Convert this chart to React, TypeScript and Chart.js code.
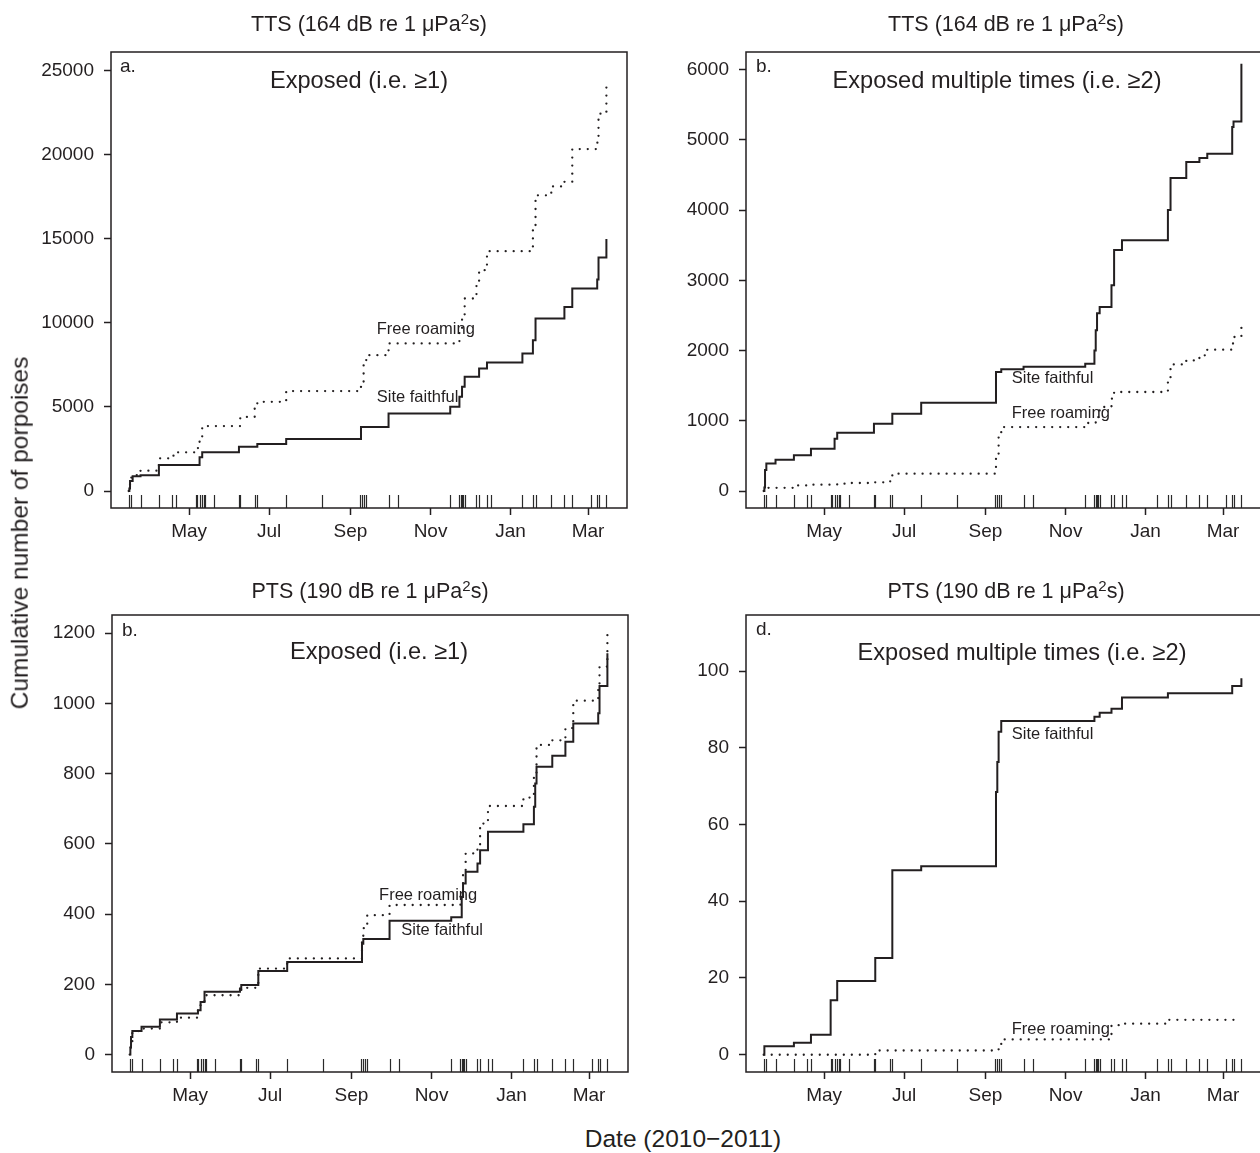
import React, { useEffect, useRef } from "react";
import { Chart, registerables } from "chart.js";

Chart.register(...registerables);

const FONT = '"Liberation Sans", Arial, Helvetica, sans-serif';
const INK = "#231f20";

// x values are days since 1 January 2010
const monthTickDays = [120, 181, 243, 304, 365, 424];
const monthTickLabels = ["May", "Jul", "Sep", "Nov", "Jan", "Mar"];
const xMinDay = 60.5;
const xMaxDay = 453.7;

// days with exposure events (rug marks)
const exposureEventDays = [
  74, 76, 83, 97, 107, 110, 125, 126, 128, 130, 131, 132, 139, 158, 159, 170, 172,
  194, 221, 250, 252, 253, 255, 272, 279, 319, 326, 327, 328, 329, 330, 339, 341,
  347, 350, 374, 382, 384, 396, 406, 412, 426, 431, 432, 438,
];

const ttsAnyTicks = [0, 5000, 10000, 15000, 20000, 25000];
const ttsMultiTicks = [0, 1000, 2000, 3000, 4000, 5000, 6000];
const ptsAnyTicks = [0, 200, 400, 600, 800, 1000, 1200];
const ptsMultiTicks = [0, 20, 40, 60, 80, 100];

// [day, cumulative number of porpoises]
const ttsAnySiteFaithful: [number, number][] = [
  [74, 0], [74.5, 150], [75, 600], [77, 880], [83, 930], [97, 1540], [128, 2000], [130, 2300],
  [158, 2630], [172, 2790], [194, 3090], [251, 3800], [272, 4610], [319, 5010], [326, 5600],
  [328, 6200], [330, 6790], [341, 7280], [347, 7640], [374, 8170], [382, 8960], [384, 10250],
  [406, 10940], [412, 12030], [431, 12570], [432, 13870], [438, 14980],
];
const ttsAnyFreeRoaming: [number, number][] = [
  [74, 0], [75, 500], [76, 950], [83, 1210], [97, 1940], [107, 2100], [110, 2300], [126, 2550],
  [128, 3200], [130, 3860], [159, 4400], [170, 5000], [172, 5300], [194, 5940], [251, 6500],
  [253, 7500], [255, 8070], [272, 8770], [326, 9700], [328, 10500], [330, 11440], [339, 12300],
  [341, 13120], [347, 14250], [382, 15500], [384, 17570], [396, 18100], [406, 18370],
  [412, 20320], [431, 20700], [432, 22420], [438, 24100],
];
const ttsMultiSiteFaithful: [number, number][] = [
  [74, 0], [74.5, 50], [75, 300], [76, 390], [83, 446], [97, 508], [110, 603], [128, 745],
  [130, 830], [158, 959], [172, 1101], [194, 1258], [251, 1694], [255, 1732], [272, 1770],
  [319, 1813], [326, 2000], [327, 2290], [328, 2530], [330, 2620], [339, 2930], [341, 3430],
  [347, 3570], [382, 4000], [384, 4457], [396, 4684], [406, 4741], [412, 4803], [431, 5183],
  [432, 5263], [438, 6084],
];
const ttsMultiFreeRoaming: [number, number][] = [
  [74, 0], [74.5, 20], [76, 45], [97, 80], [110, 90], [130, 104], [139, 114], [158, 123],
  [170, 138], [172, 247], [251, 500], [253, 800], [255, 911], [319, 968], [327, 1006],
  [329, 1077], [330, 1196], [339, 1315], [341, 1410], [382, 1600], [384, 1803], [396, 1860],
  [406, 1932], [412, 2012], [431, 2100], [432, 2193], [438, 2430],
];
const ptsAnySiteFaithful: [number, number][] = [
  [74, 0], [74.5, 20], [75, 50], [76, 67], [83, 79], [97, 100], [110, 117], [126, 126],
  [128, 150], [131, 179], [158, 188], [159, 198], [172, 238], [194, 264], [251, 316],
  [252, 329], [272, 381], [319, 391], [327, 449], [328, 487], [330, 521], [339, 544],
  [341, 582], [347, 635], [374, 656], [382, 706], [383, 772], [384, 820], [396, 851],
  [406, 891], [412, 943], [431, 972], [432, 1050], [438, 1143],
];
const ptsAnyFreeRoaming: [number, number][] = [
  [74, 0], [74.5, 20], [76, 67], [83, 74], [97, 92], [110, 105], [126, 130], [128, 150],
  [131, 169], [158, 175], [159, 190], [172, 245], [194, 274], [251, 330], [252, 360],
  [255, 397], [272, 426], [326, 460], [328, 516], [330, 573], [339, 592], [341, 658],
  [347, 708], [374, 732], [382, 800], [384, 882], [396, 895], [406, 930], [412, 1008],
  [431, 1040], [432, 1105], [438, 1205],
];
const ptsMultiSiteFaithful: [number, number][] = [
  [74, 0], [74.5, 2.2], [97, 3.1], [110, 5.2], [125, 14.2], [130, 19.2], [159, 25.2],
  [172, 48.1], [194, 49.1], [251, 68.5], [252, 76.3], [253, 84.2], [255, 87], [326, 88.1],
  [330, 89.1], [339, 90.2], [347, 93.1], [382, 94.2], [431, 96.1], [438, 98.1],
];
const ptsMultiFreeRoaming: [number, number][] = [
  [74, 0], [159, 1.1], [253, 2.5], [255, 4], [339, 7.7], [347, 8.1], [382, 9.1], [438, 9.1],
];

type Label = { text: string; x: number; y: number };
type Panel = {
  left: number; top: number; width: number; height: number;
  padTop: number; padRight: number; yAxisWidth: number; xAxisHeight: number;
  yMin: number; yMax: number; yTicks: number[];
  site: [number, number][]; roam: [number, number][];
  letter: string; letterPos: [number, number];
  subtitle: string; subtitlePos: [number, number];
  labels: Label[];
};

const panels: Panel[] = [
  {
    left: 0, top: 0, width: 640, height: 560, padTop: 52, padRight: 13, yAxisWidth: 111, xAxisHeight: 52,
    yMin: -1009, yMax: 26087, yTicks: ttsAnyTicks, site: ttsAnySiteFaithful, roam: ttsAnyFreeRoaming,
    letter: "a.", letterPos: [9, 20], subtitle: "Exposed (i.e. \u22651)", subtitlePos: [248, 29],
    labels: [{ text: "Free roaming", x: 263, y: 9602 }, { text: "Site faithful", x: 263, y: 5564 }],
  },
  {
    left: 635, top: 0, width: 640, height: 560, padTop: 52, padRight: 13, yAxisWidth: 111, xAxisHeight: 52,
    yMin: -242, yMax: 6251, yTicks: ttsMultiTicks, site: ttsMultiSiteFaithful, roam: ttsMultiFreeRoaming,
    letter: "b.", letterPos: [10, 20], subtitle: "Exposed multiple times (i.e. \u22652)", subtitlePos: [251, 29],
    labels: [{ text: "Site faithful", x: 263, y: 1609 }, { text: "Free roaming", x: 263, y: 1102 }],
  },
  {
    left: 0, top: 563, width: 640, height: 560, padTop: 52, padRight: 12, yAxisWidth: 112, xAxisHeight: 51,
    yMin: -49.6, yMax: 1252, yTicks: ptsAnyTicks, site: ptsAnySiteFaithful, roam: ptsAnyFreeRoaming,
    letter: "b.", letterPos: [10, 21], subtitle: "Exposed (i.e. \u22651)", subtitlePos: [267, 37],
    labels: [{ text: "Free roaming", x: 264, y: 452 }, { text: "Site faithful", x: 281, y: 354 }],
  },
  {
    left: 635, top: 563, width: 640, height: 560, padTop: 52, padRight: 13, yAxisWidth: 111, xAxisHeight: 51,
    yMin: -4.5, yMax: 114.6, yTicks: ptsMultiTicks, site: ptsMultiSiteFaithful, roam: ptsMultiFreeRoaming,
    letter: "d.", letterPos: [10, 20], subtitle: "Exposed multiple times (i.e. \u22652)", subtitlePos: [276, 38],
    labels: [{ text: "Site faithful", x: 263, y: 83.4 }, { text: "Free roaming", x: 263, y: 6.5 }],
  },
];

const framePlugin = {
  id: "frame",
  afterDraw(chart: any) {
    const { ctx, chartArea: a } = chart;
    ctx.save();
    ctx.strokeStyle = INK;
    ctx.lineWidth = 1.5;
    ctx.strokeRect(a.left, a.top, a.right - a.left, a.bottom - a.top);
    ctx.restore();
  },
};

const rugPlugin = {
  id: "rug",
  afterDatasetsDraw(chart: any) {
    const { ctx, chartArea: a, scales } = chart;
    ctx.save();
    ctx.strokeStyle = "#2a2a2a";
    ctx.lineWidth = 1.2;
    for (const d of exposureEventDays) {
      const x = Math.round(scales.x.getPixelForValue(d)) + 0.5;
      ctx.beginPath();
      ctx.moveTo(x, a.bottom);
      ctx.lineTo(x, a.bottom - 13);
      ctx.stroke();
    }
    ctx.restore();
  },
};

function textPlugin(p: Panel) {
  return {
    id: "texts",
    afterDraw(chart: any) {
      const { ctx, chartArea: a, scales } = chart;
      ctx.save();
      ctx.fillStyle = INK;
      ctx.font = `19px ${FONT}`;
      ctx.textAlign = "left";
      ctx.textBaseline = "alphabetic";
      ctx.fillText(p.letter, a.left + p.letterPos[0], a.top + p.letterPos[1]);
      ctx.font = `23.6px ${FONT}`;
      ctx.textAlign = "center";
      ctx.textBaseline = "middle";
      ctx.fillText(p.subtitle, a.left + p.subtitlePos[0], a.top + p.subtitlePos[1]);
      ctx.font = `16.5px ${FONT}`;
      ctx.textAlign = "left";
      for (const l of p.labels) {
        ctx.fillText(l.text, scales.x.getPixelForValue(l.x), scales.y.getPixelForValue(l.y));
      }
      ctx.restore();
    },
  };
}

function PanelChart({ p }: { p: Panel }) {
  const ref = useRef<HTMLCanvasElement | null>(null);
  useEffect(() => {
    if (!ref.current) return;
    const gridOpts = {
      display: true, drawOnChartArea: false, drawTicks: true, tickLength: 7,
      tickWidth: 1.5, tickColor: INK, color: INK,
    };
    const chart = new Chart(ref.current, {
      type: "line",
      data: {
        datasets: [
          {
            label: "Site faithful",
            data: p.site.map(([x, y]) => ({ x, y })),
            stepped: true, borderColor: INK, borderWidth: 2, pointRadius: 0, fill: false,
          },
          {
            label: "Free roaming",
            data: p.roam.map(([x, y]) => ({ x, y })),
            stepped: true, borderColor: INK, borderWidth: 2.3, borderDash: [0.01, 8],
            borderCapStyle: "round", pointRadius: 0, fill: false,
          },
        ],
      },
      options: {
        responsive: false,
        animation: false,
        devicePixelRatio: 1,
        events: [],
        layout: { padding: { top: p.padTop, right: p.padRight, left: 0, bottom: 0 } },
        plugins: { legend: { display: false }, tooltip: { enabled: false }, title: { display: false } },
        scales: {
          x: {
            type: "linear", min: xMinDay, max: xMaxDay, bounds: "data",
            afterBuildTicks: (s: any) => { s.ticks = monthTickDays.map((v) => ({ value: v })); },
            afterFit: (s: any) => { s.height = p.xAxisHeight; },
            ticks: {
              autoSkip: false, maxRotation: 0, minRotation: 0, padding: 5, color: INK,
              font: { family: FONT, size: 19 },
              callback: (v: any) => monthTickLabels[monthTickDays.indexOf(Number(v))] ?? "",
            },
            grid: gridOpts,
            border: { display: false },
          },
          y: {
            type: "linear", min: p.yMin, max: p.yMax, bounds: "data",
            afterBuildTicks: (s: any) => { s.ticks = p.yTicks.map((v) => ({ value: v })); },
            afterFit: (s: any) => { s.width = p.yAxisWidth; },
            ticks: {
              padding: 10, color: INK, font: { family: FONT, size: 19 },
              callback: (v: any) => String(v),
            },
            grid: gridOpts,
            border: { display: false },
          },
        },
      } as any,
      plugins: [framePlugin, rugPlugin, textPlugin(p)],
    });
    return () => chart.destroy();
  }, [p]);
  return (
    <canvas
      ref={ref}
      width={p.width}
      height={p.height}
      style={{ position: "absolute", left: p.left, top: p.top, width: p.width, height: p.height }}
    />
  );
}

const sup = { fontSize: "0.7em", position: "relative" as const, top: "-0.45em" };

function Title({ x, y, kind, level }: { x: number; y: number; kind: string; level: string }) {
  return (
    <div
      style={{
        position: "absolute", left: x, top: y, transform: "translate(-50%, -50%)",
        font: `21.5px ${FONT}`, color: INK, whiteSpace: "nowrap", lineHeight: 1,
      }}
    >
      {kind} ({level} dB re 1 {"\u03bc"}Pa<span style={sup}>2</span>s)
    </div>
  );
}

export default function App() {
  return (
    <div
      style={{
        position: "fixed", left: 0, top: 0, width: 1260, height: 1153, overflow: "hidden",
        background: "#fff",
      }}
    >
      {panels.map((p, i) => (
        <PanelChart key={i} p={p} />
      ))}
      <Title x={369} y={25} kind="TTS" level="164" />
      <Title x={1006} y={25} kind="TTS" level="164" />
      <Title x={370} y={592} kind="PTS" level="190" />
      <Title x={1006} y={592} kind="PTS" level="190" />
      <div
        style={{
          position: "absolute", left: 20, top: 533, transform: "translate(-50%, -50%) rotate(-90deg)",
          font: `24.5px ${FONT}`, color: INK, whiteSpace: "nowrap", lineHeight: 1,
        }}
      >
        Cumulative number of porpoises
      </div>
      <div
        style={{
          position: "absolute", left: 683, top: 1139, transform: "translate(-50%, -50%)",
          font: `24.5px ${FONT}`, color: INK, whiteSpace: "nowrap", lineHeight: 1,
        }}
      >
        Date (2010{"\u2212"}2011)
      </div>
    </div>
  );
}
